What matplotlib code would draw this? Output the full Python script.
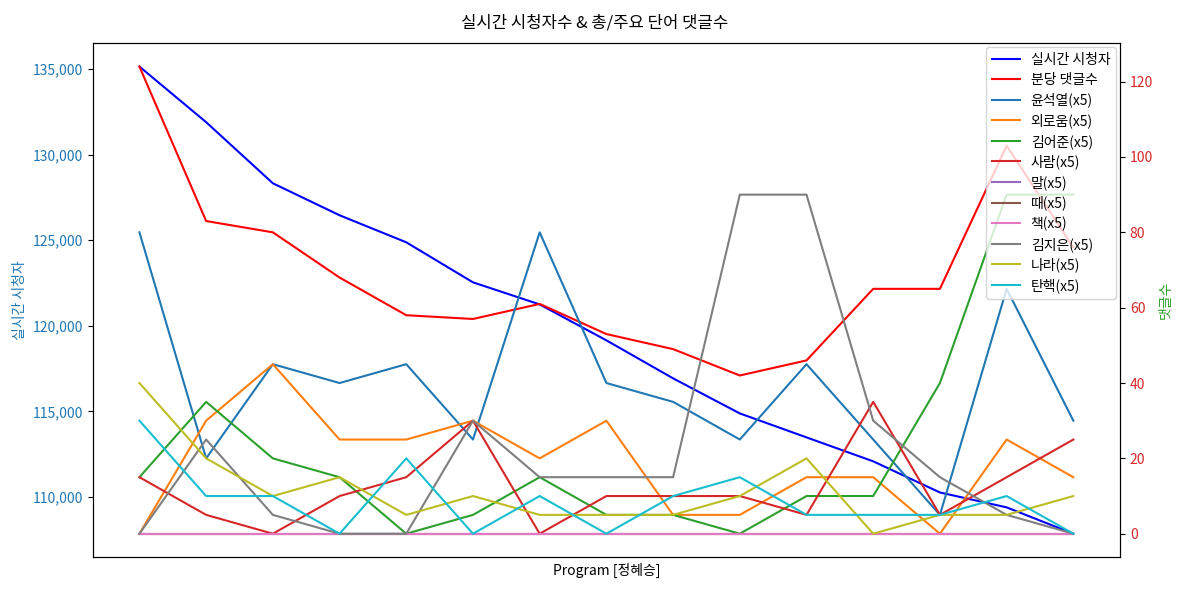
"""Live viewers vs. comment counts chart."""
import matplotlib
matplotlib.use("Agg")
import matplotlib.pyplot as plt
from matplotlib.ticker import FuncFormatter

plt.rcParams["font.family"] = ["Noto Sans CJK KR", "DejaVu Sans"]
plt.rcParams["axes.unicode_minus"] = False

# Data
viewers = [135150, 131900, 128330, 126460, 124880, 122540, 121250, 119150,
           116930, 114880, 113480, 112080, 110260, 109390, 107850]
comments_per_min = [124, 83, 80, 68, 58, 57, 61, 53, 49, 42, 46, 65, 65, 103, 76]

word_names = ["윤석열", "외로움", "김어준", "사람", "말", "때", "책", "김지은", "나라", "탄핵"]
word_counts = [
    [80, 20, 45, 40, 45, 25, 80, 40, 35, 25, 45, 25, 5, 65, 30],   # 윤석열
    [0, 30, 45, 25, 25, 30, 20, 30, 5, 5, 15, 15, 0, 25, 15],      # 외로움
    [15, 35, 20, 15, 0, 5, 15, 5, 5, 0, 10, 10, 40, 90, 90],       # 김어준
    [15, 5, 0, 10, 15, 30, 0, 10, 10, 10, 5, 35, 5, 15, 25],       # 사람
    [0] * 15,                                                      # 말
    [0] * 15,                                                      # 때
    [0] * 15,                                                      # 책
    [0, 25, 5, 0, 0, 30, 15, 15, 15, 90, 90, 30, 15, 5, 0],        # 김지은
    [40, 20, 10, 15, 5, 10, 5, 5, 5, 10, 20, 0, 5, 5, 10],         # 나라
    [30, 10, 10, 0, 20, 0, 10, 0, 10, 15, 5, 5, 5, 10, 0],         # 탄핵
]
x = list(range(len(viewers)))

fig, ax1 = plt.subplots(figsize=(11.89, 5.92), dpi=100)
ax2 = ax1.twinx()

h1, = ax1.plot(x, viewers, color="blue", label="실시간 시청자")
h2, = ax2.plot(x, comments_per_min, color="red", label="분당 댓글수")
handles = [h1, h2]
for i, (name, counts) in enumerate(zip(word_names, word_counts)):
    h, = ax2.plot(x, counts, color=f"C{i}", label=f"{name}(x5)")
    handles.append(h)

ax1.set_xticks([])
ax1.set_xlabel("Program [정혜승]")
ax1.set_ylabel("실시간 시청자", color="tab:blue")
ax1.tick_params(axis="y", labelcolor="tab:blue")
ax1.yaxis.set_major_formatter(FuncFormatter(lambda v, _: f"{v:,.0f}"))

ax2.set_ylabel("댓글수", color="tab:green")
ax2.tick_params(axis="y", labelcolor="tab:red")

ax2.legend(handles=handles, labels=[h.get_label() for h in handles],
           loc="upper right", labelspacing=0.42, borderaxespad=0.3)
fig.suptitle("실시간 시청자수 & 총/주요 단어 댓글수", y=0.975)

fig.subplots_adjust(left=0.078, right=0.942, top=0.927, bottom=0.059)
fig.savefig("out.png")
